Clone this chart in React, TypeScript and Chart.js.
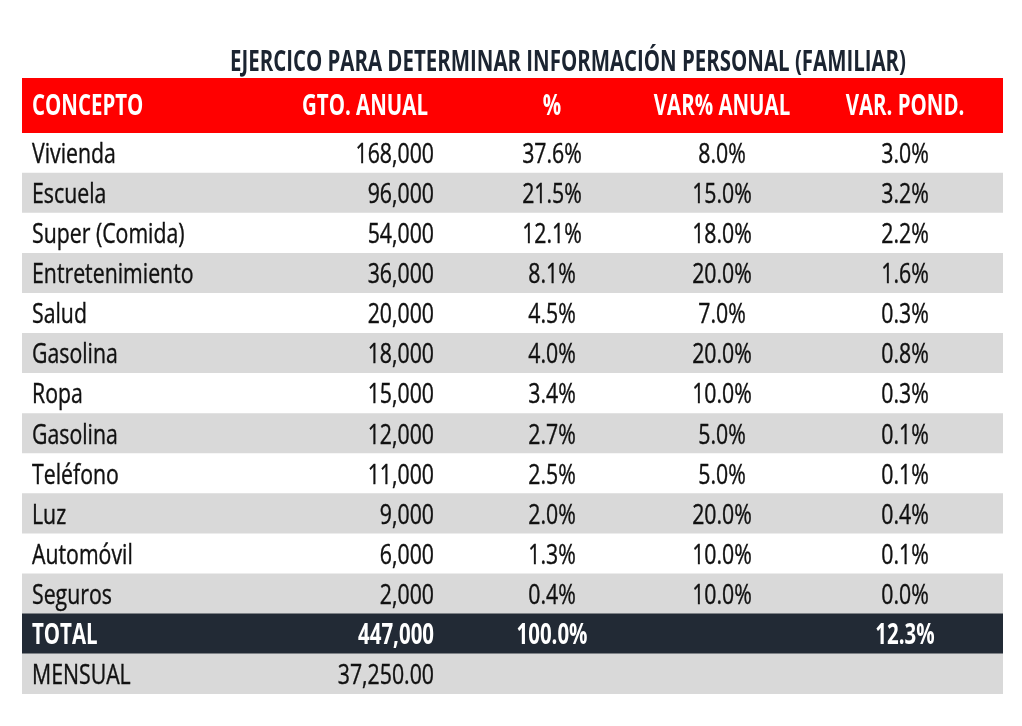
import React, { useEffect, useRef } from "react";
import { Chart, registerables } from "chart.js";

Chart.register(...registerables);

const TITLE = "EJERCICO PARA DETERMINAR INFORMACIÓN PERSONAL (FAMILIAR)";
const HEADERS = ["CONCEPTO", "GTO. ANUAL", "%", "VAR% ANUAL", "VAR. POND."];
const CONCEPTS = [
  "Vivienda", "Escuela", "Super (Comida)", "Entretenimiento", "Salud", "Gasolina",
  "Ropa", "Gasolina", "Teléfono", "Luz", "Automóvil", "Seguros",
];
const GTO_ANUAL = [168000, 96000, 54000, 36000, 20000, 18000, 15000, 12000, 11000, 9000, 6000, 2000];
const PCT = [37.6, 21.5, 12.1, 8.1, 4.5, 4.0, 3.4, 2.7, 2.5, 2.0, 1.3, 0.4];
const VAR_ANUAL = [8.0, 15.0, 18.0, 20.0, 7.0, 20.0, 10.0, 5.0, 5.0, 20.0, 10.0, 10.0];
const VAR_POND = [3.0, 3.2, 2.2, 1.6, 0.3, 0.8, 0.3, 0.1, 0.1, 0.4, 0.1, 0.0];
const TOTAL_LABEL = "TOTAL";
const TOTAL_GTO = 447000;
const TOTAL_PCT = 100.0;
const TOTAL_POND = 12.3;
const MENSUAL_LABEL = "MENSUAL";
const MENSUAL_VALUE = 37250.0;

// layout (pixels / table units)
const W = 1022;
const H = 726;
const TABLE_LEFT = 22;
const TABLE_RIGHT = 1003;
const TABLE_W = TABLE_RIGHT - TABLE_LEFT;
const HEADER_TOP = 78;
const BODY_TOP = 133;
const BODY_BOTTOM = 694;
const TITLE_BASELINE = 71;
const TITLE_CENTER = 546;
const COL_CONCEPT_LEFT = 10;
const COL_GTO_RIGHT = 412;
const COL_GTO_HEADER_CENTER = 343;
const COL_PCT_CENTER = 530;
const COL_VAR_CENTER = 700;
const COL_POND_CENTER = 883;
const FONT_SIZE = 28;
const SX_REGULAR = 0.76;
const SX_BOLD = 0.73;
const CAP_HALF = 10;

const RED = "#ff0000";
const GRAY = "#d9d9d9";
const DARK = "#222a35";
const WHITE = "#ffffff";
const TEXT = "#111111";

const ROW_LABELS = [...CONCEPTS, TOTAL_LABEL, MENSUAL_LABEL];
const ROW_COLORS = ROW_LABELS.map((_, i) =>
  i < CONCEPTS.length ? (i % 2 === 0 ? WHITE : GRAY) : i === CONCEPTS.length ? DARK : GRAY
);

const fmtInt = (v: number) => v.toLocaleString("en-US");
const fmtMoney = (v: number) =>
  v.toLocaleString("en-US", { minimumFractionDigits: 2, maximumFractionDigits: 2 });
const fmtPct = (v: number) => v.toFixed(1) + "%";

function drawText(
  ctx: CanvasRenderingContext2D,
  text: string,
  x: number,
  y: number,
  align: CanvasTextAlign,
  bold: boolean,
  color: string
) {
  ctx.save();
  ctx.translate(x, y);
  ctx.scale(bold ? SX_BOLD : SX_REGULAR, 1);
  ctx.font = `${bold ? "bold " : ""}${FONT_SIZE}px "Open Sans"`;
  ctx.textAlign = align;
  ctx.textBaseline = "alphabetic";
  ctx.fillStyle = color;
  ctx.fillText(text, 0, 0);
  if (!bold) {
    ctx.strokeStyle = color;
    ctx.lineWidth = 0.4;
    ctx.strokeText(text, 0, 0);
  }
  ctx.restore();
}

const tablePlugin = {
  id: "tableText",
  afterDatasetsDraw(chart: any) {
    const ctx: CanvasRenderingContext2D = chart.ctx;
    const xs = chart.scales.x;
    const ys = chart.scales.y;
    const area = chart.chartArea;
    const px = (v: number) => xs.getPixelForValue(v);

    // title
    drawText(ctx, TITLE, px(TITLE_CENTER), TITLE_BASELINE, "center", true, "#1b2431");

    // header band
    ctx.save();
    ctx.fillStyle = RED;
    ctx.fillRect(px(0), HEADER_TOP, px(TABLE_W) - px(0), area.top - HEADER_TOP);
    ctx.restore();
    const hy = (HEADER_TOP + area.top) / 2 + CAP_HALF - 1;
    drawText(ctx, HEADERS[0], px(COL_CONCEPT_LEFT), hy, "left", true, WHITE);
    drawText(ctx, HEADERS[1], px(COL_GTO_HEADER_CENTER), hy, "center", true, WHITE);
    drawText(ctx, HEADERS[2], px(COL_PCT_CENTER), hy, "center", true, WHITE);
    drawText(ctx, HEADERS[3], px(COL_VAR_CENTER), hy, "center", true, WHITE);
    drawText(ctx, HEADERS[4], px(COL_POND_CENTER), hy, "center", true, WHITE);

    // body rows
    CONCEPTS.forEach((c, i) => {
      const y = ys.getPixelForValue(i) + CAP_HALF;
      drawText(ctx, c, px(COL_CONCEPT_LEFT), y, "left", false, TEXT);
      drawText(ctx, fmtInt(GTO_ANUAL[i]), px(COL_GTO_RIGHT), y, "right", false, TEXT);
      drawText(ctx, fmtPct(PCT[i]), px(COL_PCT_CENTER), y, "center", false, TEXT);
      drawText(ctx, fmtPct(VAR_ANUAL[i]), px(COL_VAR_CENTER), y, "center", false, TEXT);
      drawText(ctx, fmtPct(VAR_POND[i]), px(COL_POND_CENTER), y, "center", false, TEXT);
    });

    const ti = CONCEPTS.length;
    const ty = ys.getPixelForValue(ti) + CAP_HALF;
    drawText(ctx, TOTAL_LABEL, px(COL_CONCEPT_LEFT), ty, "left", true, WHITE);
    drawText(ctx, fmtInt(TOTAL_GTO), px(COL_GTO_RIGHT), ty, "right", true, WHITE);
    drawText(ctx, fmtPct(TOTAL_PCT), px(COL_PCT_CENTER), ty, "center", true, WHITE);
    drawText(ctx, fmtPct(TOTAL_POND), px(COL_POND_CENTER), ty, "center", true, WHITE);

    const my = ys.getPixelForValue(ti + 1) + CAP_HALF;
    drawText(ctx, MENSUAL_LABEL, px(COL_CONCEPT_LEFT), my, "left", false, TEXT);
    drawText(ctx, fmtMoney(MENSUAL_VALUE), px(COL_GTO_RIGHT), my, "right", false, TEXT);
  },
};

export default function App() {
  const ref = useRef<HTMLCanvasElement | null>(null);

  useEffect(() => {
    if (!ref.current) return;
    const chart = new Chart(ref.current, {
      type: "bar",
      data: {
        labels: ROW_LABELS,
        datasets: [
          {
            data: ROW_LABELS.map(() => [0, TABLE_W]) as any,
            backgroundColor: ROW_COLORS,
            borderWidth: 0,
            barPercentage: 1,
            categoryPercentage: 1,
          },
        ],
      },
      options: {
        indexAxis: "y",
        responsive: false,
        animation: false,
        events: [],
        layout: {
          padding: {
            left: TABLE_LEFT,
            right: W - TABLE_RIGHT,
            top: BODY_TOP,
            bottom: H - BODY_BOTTOM,
          },
        },
        scales: {
          x: { type: "linear", min: 0, max: TABLE_W, display: false },
          y: { type: "category", display: false, offset: true },
        },
        plugins: {
          legend: { display: false },
          tooltip: { enabled: false },
          title: { display: false },
        },
      },
      plugins: [tablePlugin],
    });
    return () => chart.destroy();
  }, []);

  return (
    <div style={{ position: "fixed", left: 0, top: 0, width: W, height: H, background: "#fff" }}>
      <canvas ref={ref} width={W} height={H} style={{ display: "block", width: W, height: H }} />
    </div>
  );
}
